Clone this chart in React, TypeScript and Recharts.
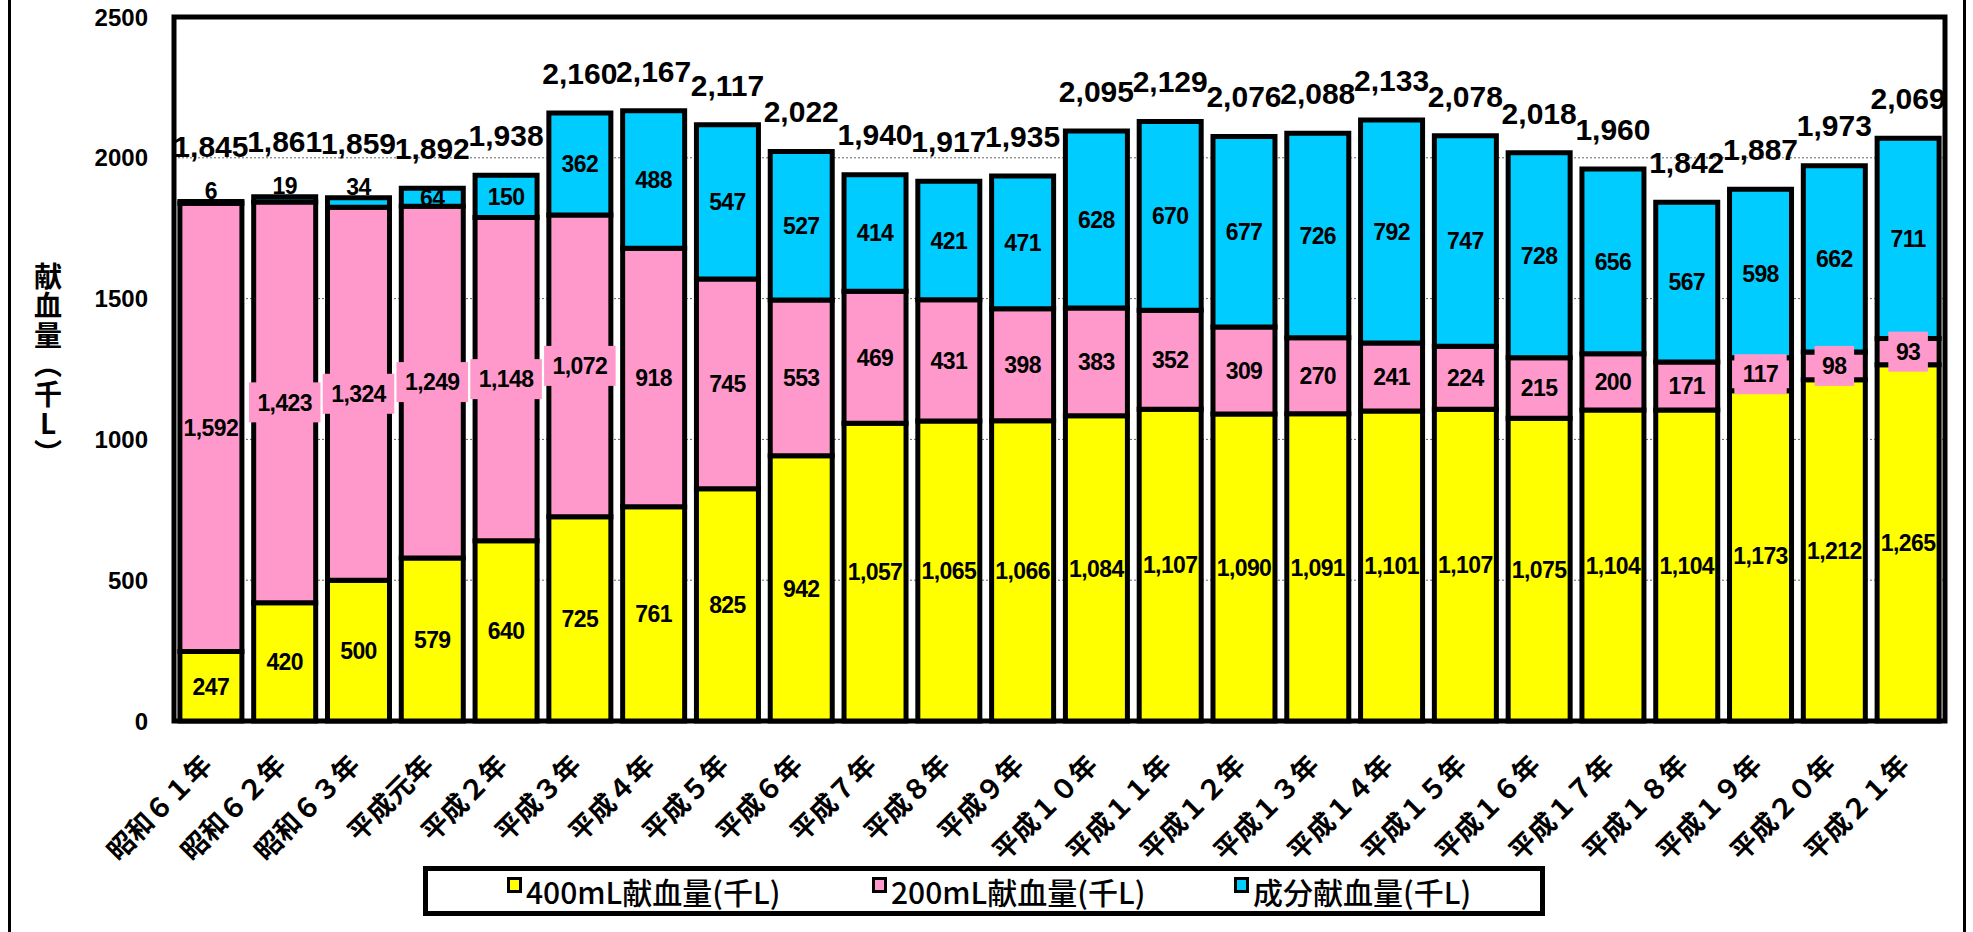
import React from "react";
import {
  BarChart,
  Bar,
  XAxis,
  YAxis,
  CartesianGrid,
  LabelList,
  Legend,
  ReferenceArea,
} from "recharts";

const categories = [
  "昭和６１年", "昭和６２年", "昭和６３年", "平成元年", "平成２年", "平成３年",
  "平成４年", "平成５年", "平成６年", "平成７年", "平成８年", "平成９年",
  "平成１０年", "平成１１年", "平成１２年", "平成１３年", "平成１４年", "平成１５年",
  "平成１６年", "平成１７年", "平成１８年", "平成１９年", "平成２０年", "平成２１年",
];
const ml400 = [247, 420, 500, 579, 640, 725, 761, 825, 942, 1057, 1065, 1066, 1084, 1107, 1090, 1091, 1101, 1107, 1075, 1104, 1104, 1173, 1212, 1265];
const ml200 = [1592, 1423, 1324, 1249, 1148, 1072, 918, 745, 553, 469, 431, 398, 383, 352, 309, 270, 241, 224, 215, 200, 171, 117, 98, 93];
const component = [6, 19, 34, 64, 150, 362, 488, 547, 527, 414, 421, 471, 628, 670, 677, 726, 792, 747, 728, 656, 567, 598, 662, 711];
const totals = [1845, 1861, 1859, 1892, 1938, 2160, 2167, 2117, 2022, 1940, 1917, 1935, 2095, 2129, 2076, 2088, 2133, 2078, 2018, 1960, 1842, 1887, 1973, 2069];
const yTicks = [0, 500, 1000, 1500, 2000, 2500];
const seriesNames = ["400mL献血量(千L)", "200mL献血量(千L)", "成分献血量(千L)"];
// vertical title, brackets in their vertical forms
const yTitle = "献血量︵千L︶";

const YELLOW = "#FFFF00";
const PINK = "#FF99CC";
const CYAN = "#00CCFF";
const NUM_FONT = "'Liberation Sans', Arial, sans-serif";
const JP_FONT = "'Noto Sans CJK JP', 'Noto Sans CJK SC', sans-serif";

const data = categories.map((name, i) => ({
  name,
  ml400: ml400[i],
  ml200: ml200[i],
  comp: component[i],
  total: totals[i],
}));

const fmt = (v: number) => v.toLocaleString("en-US");

function textWidth(s: string, size: number) {
  let w = 0;
  for (const c of s) w += c === "," ? 0.278 : 0.556;
  return w * size;
}

const SEG_SIZE = 23;

const segLabel = (boxFill: string | null) => (props: any) => {
  const vb = props.viewBox || props;
  const { x, y, width, height } = vb;
  const { value, index } = props;
  const txt = fmt(Number(value));
  const cx = x + width / 2;
  let cy = y + height / 2;
  if (Number(value) < 50) cy = y - 11;
  const showBox = boxFill && index > 0;
  const bw = textWidth(txt, SEG_SIZE) - 3 + 17;
  return (
    <g>
      {showBox && <rect x={cx - bw / 2} y={cy - 20} width={bw} height={40} fill={boxFill} />}
      <text
        x={cx}
        y={cy}
        dy="0.36em"
        textAnchor="middle"
        fontFamily={NUM_FONT}
        fontWeight="bold"
        fontSize={SEG_SIZE}
        letterSpacing={-0.6}
        fill="#000"
      >
        {txt}
      </text>
    </g>
  );
};

const totalLabel = (props: any) => {
  const vb = props.viewBox || props;
  const { x, y, width } = vb;
  const { value, index } = props;
  const lift = 40 + (component[index] < 50 ? 15 : 0);
  return (
    <text
      x={x + width / 2}
      y={y - lift}
      dy="0.36em"
      textAnchor="middle"
      fontFamily={NUM_FONT}
      fontWeight="bold"
      fontSize={30}
      fill="#000"
    >
      {fmt(Number(value))}
    </text>
  );
};

const XTick = (props: any) => {
  const { x, y, payload } = props;
  const ax = x + 3;
  const ay = y + 46;
  return (
    <text
      x={ax}
      y={ay}
      transform={`rotate(-45, ${ax}, ${ay})`}
      textAnchor="end"
      fontFamily={JP_FONT}
      fontWeight="bold"
      fontSize={27}
      fill="#000"
    >
      {payload.value}
    </text>
  );
};

const YTick = (props: any) => {
  const { y, payload } = props;
  return (
    <text
      x={148}
      y={y}
      dy="0.36em"
      textAnchor="end"
      fontFamily={NUM_FONT}
      fontWeight="bold"
      fontSize={24}
      fill="#000"
    >
      {payload.value}
    </text>
  );
};

const YTitle = () => (
  <text
    x={48}
    y={262}
    fontFamily={JP_FONT}
    fontWeight="bold"
    fontSize={28}
    letterSpacing={1.5}
    fill="#000"
    style={{ writingMode: "vertical-rl", textOrientation: "upright" } as any}
  >
    {yTitle}
  </text>
);

const colors = [YELLOW, PINK, CYAN];

const LegendBox = () => (
  <div
    style={{
      boxSizing: "border-box",
      width: 1122,
      height: 50,
      border: "5px solid #000",
      background: "#fff",
      position: "relative",
      fontFamily: JP_FONT,
      fontWeight: 500,
      fontSize: 30,
      color: "#000",
    }}
  >
    {seriesNames.map((n, i) => (
      <div
        key={n}
        style={{
          position: "absolute",
          left: [79, 444, 806][i],
          top: 0,
          height: 40,
          display: "flex",
          alignItems: "center",
          whiteSpace: "nowrap",
        }}
      >
        <span
          style={{
            display: "inline-block",
            boxSizing: "border-box",
            width: 15,
            height: 16,
            border: "3px solid #000",
            background: colors[i],
            marginRight: 4,
            position: "relative",
            top: -6,
          }}
        />
        <span style={{ lineHeight: "40px" }}>{n}</span>
      </div>
    ))}
  </div>
);

export default function App() {
  return (
    <div
      style={{
        position: "absolute",
        left: 0,
        top: 0,
        width: 1973,
        height: 932,
        overflow: "hidden",
        background: "#fff",
      }}
    >
      <div
        style={{
          position: "absolute",
          left: 8,
          top: -20,
          width: 1958,
          height: 980,
          border: "3px solid #000",
          boxSizing: "border-box",
        }}
      />
      <div style={{ position: "absolute", left: 0, top: 0 }}>
        <BarChart
          width={1973}
          height={932}
          data={data}
          margin={{ top: 17, right: 28, bottom: 0, left: 0 }}
          barCategoryGap="8%"
        >
          <CartesianGrid vertical={false} stroke="#666" strokeDasharray="2 2" />
          <XAxis
            dataKey="name"
            interval={0}
            height={211}
            tick={<XTick />}
            tickLine={false}
            axisLine={false}
            tickSize={0}
            tickMargin={0}
          />
          <YAxis
            width={174}
            domain={[0, 2500]}
            ticks={yTicks}
            tick={<YTick />}
            tickLine={false}
            axisLine={false}
            label={{ content: () => <YTitle /> }}
          />
          <Bar dataKey="ml400" name={seriesNames[0]} stackId="a" fill={YELLOW} stroke="#000" strokeWidth={5} isAnimationActive={false}>
            <LabelList dataKey="ml400" content={segLabel(null)} />
          </Bar>
          <Bar dataKey="ml200" name={seriesNames[1]} stackId="a" fill={PINK} stroke="#000" strokeWidth={5} isAnimationActive={false}>
            <LabelList dataKey="ml200" content={segLabel(PINK)} />
          </Bar>
          <Bar dataKey="comp" name={seriesNames[2]} stackId="a" fill={CYAN} stroke="#000" strokeWidth={5} isAnimationActive={false}>
            <LabelList dataKey="comp" content={segLabel(null)} />
            <LabelList dataKey="total" content={totalLabel} />
          </Bar>
          <ReferenceArea y1={0} y2={2500} fill="none" stroke="#000" strokeWidth={5} ifOverflow="visible" />
          <Legend
            layout="horizontal"
            verticalAlign="middle"
            align="center"
            content={<LegendBox />}
            wrapperStyle={{ left: 423, top: 866, width: 1122, height: 50 }}
          />
        </BarChart>
      </div>
    </div>
  );
}
